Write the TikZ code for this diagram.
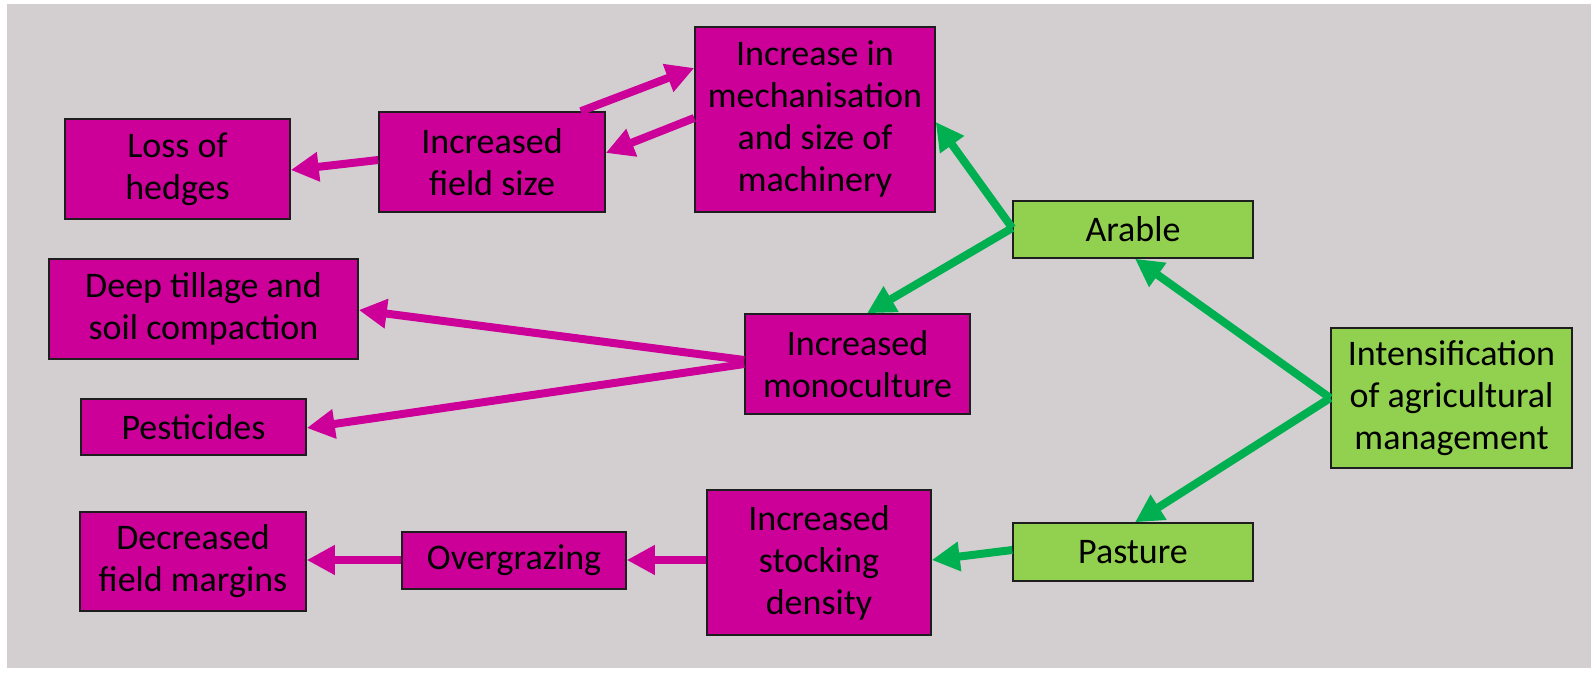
\documentclass[tikz,border=0pt]{standalone}
\usepackage{fontspec}
\setmainfont{Carlito}
\usetikzlibrary{arrows.meta}

\definecolor{bggray}{RGB}{211,207,208}
\definecolor{magbox}{RGB}{204,0,153}
\definecolor{greenbox}{RGB}{146,208,80}
\definecolor{greenarrow}{RGB}{0,176,80}
\definecolor{edge}{RGB}{30,30,30}

\tikzset{
  box/.style={draw=edge, line width=0.75pt, inner sep=0pt, align=center,
    font=\fontsize{18}{21}\selectfont, text=black},
  magnode/.style={box, fill=magbox},
  greennode/.style={box, fill=greenbox},
  link/.style={line width=4pt, -{Triangle[length=14pt,width=14pt]}},
  maglink/.style={link, draw=magbox},
  greenlink/.style={link, draw=greenarrow},
}

\begin{document}
\begin{tikzpicture}[x=0.5pt, y=-0.5pt]
  % canvas
  \fill[white] (0,0) rectangle (1591,674);
  \fill[bggray] (7,4) rectangle (1591,668);
  \useasboundingbox (0,0) rectangle (1591,674);

  % boxes
  \node[magnode, minimum width=112.5pt, minimum height=50pt] (hedges) at (177.5,169) {Loss of\\hedges};
  \node[magnode, minimum width=113pt, minimum height=50pt] (field) at (492,162) {Increased\\field size};
  \node[magnode, minimum width=120pt, minimum height=92.5pt] (mech) at (815,119.5) {Increase in\\mechanisation\\and size of\\machinery};
  \node[greennode, minimum width=120pt, minimum height=28.5pt] (arable) at (1133,229.5) {Arable};
  \node[greennode, minimum width=120.5pt, minimum height=70pt] (intens) at (1451.5,398) {Intensification\\of agricultural\\management};
  \node[magnode, minimum width=154.5pt, minimum height=50pt] (tillage) at (203.5,309) {Deep tillage and\\soil compaction};
  \node[magnode, minimum width=112.5pt, minimum height=28pt] (pest) at (193.5,427) {Pesticides};
  \node[magnode, minimum width=112.5pt, minimum height=50pt] (mono) at (857.5,364) {Increased\\monoculture};
  \node[magnode, minimum width=113pt, minimum height=49.5pt] (margins) at (193,561.5) {Decreased\\field margins};
  \node[magnode, minimum width=112pt, minimum height=28.5pt] (overg) at (514,560.5) {Overgrazing};
  \node[magnode, minimum width=112pt, minimum height=72.5pt] (stock) at (819,562.5) {Increased\\stocking\\density};
  \node[greennode, minimum width=120pt, minimum height=29pt] (pasture) at (1133,552) {Pasture};

  % green connectors
  \draw[greenlink] ([yshift=0.75pt]arable.west) -- ([yshift=-1.25pt]mech.east);
  \draw[greenlink] ([yshift=0.75pt]arable.west) -- ([xshift=4.75pt]mono.north);
  \draw[greenlink] (intens.west) -- ([xshift=1pt]arable.south);
  \draw[greenlink] (intens.west) -- ([xshift=1pt]pasture.north);
  \draw[greenlink] ([yshift=1pt]pasture.west) -- ([yshift=1.25pt]stock.east);

  % magenta connectors
  \draw[maglink] ([yshift=1pt]field.west) -- ([yshift=-0.5pt]hedges.east);
  \draw[maglink] ([xshift=-12.5pt]field.north east) -- ([yshift=25.75pt]mech.west);
  \draw[maglink] ([yshift=0.75pt]mech.west) -- ([yshift=4.5pt]field.east);
  \draw[maglink] ([yshift=2pt]mono.west) -- ([yshift=-0.5pt]tillage.east);
  \draw[maglink] ([yshift=0pt]mono.west) -- ([yshift=-0.5pt]pest.east);
  \draw[maglink] ([yshift=1.25pt]stock.west) -- ([yshift=0.25pt]overg.east);
  \draw[maglink] ([yshift=0.25pt]overg.west) -- ([yshift=0.75pt]margins.east);
\end{tikzpicture}
\end{document}
